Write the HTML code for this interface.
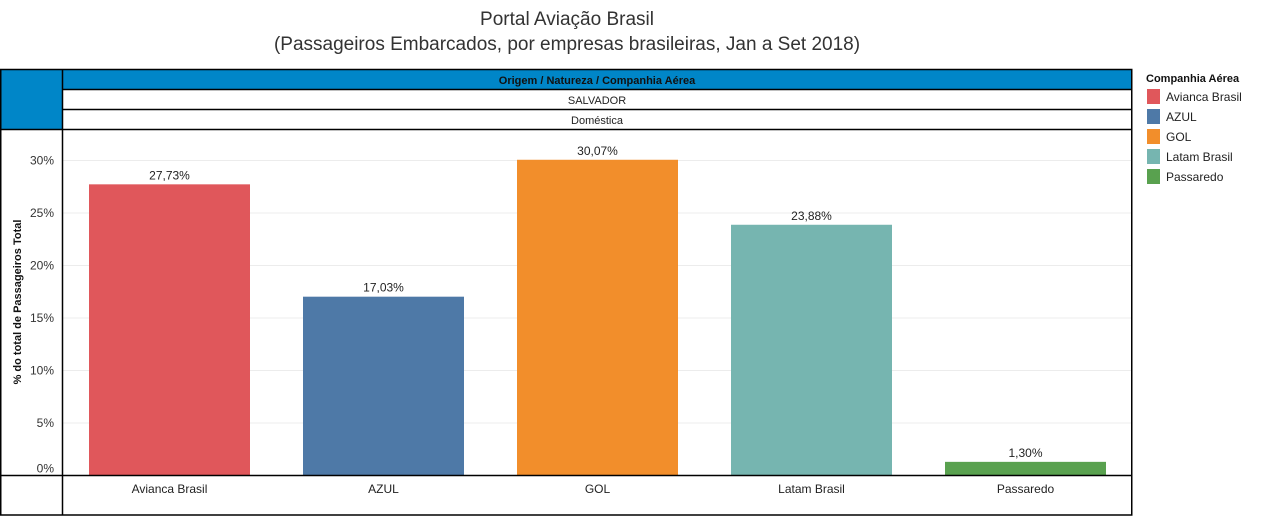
<!DOCTYPE html>
<html><head><meta charset="utf-8"><style>
body{margin:0;width:1284px;height:516px;background:#fff;font-family:"Liberation Sans",sans-serif;overflow:hidden;position:relative}
.t{position:absolute;white-space:nowrap}
</style></head><body>
<div class="t" style="left:0;width:1134px;top:7px;text-align:center;font-size:19px;line-height:25px;color:#333">Portal Aviação Brasil<br>(Passageiros Embarcados, por empresas brasileiras, Jan a Set 2018)</div>
<svg width="1284" height="516" style="position:absolute;left:0;top:0" id="chart">
<rect x="0.5" y="69.5" width="62" height="60" fill="#0086c8"/>
<rect x="62.5" y="69.5" width="1069" height="20" fill="#0086c8"/>
<text x="597" y="84" font-size="11" font-weight="bold" text-anchor="middle" fill="#111">Origem  /  Natureza  /  Companhia Aérea</text>
<text x="597" y="104" font-size="11" text-anchor="middle" fill="#222">SALVADOR</text>
<text x="597" y="124" font-size="11" text-anchor="middle" fill="#222">Doméstica</text>
<g id="grid"></g><g id="bars"></g>
<g stroke="#000" stroke-width="1.5" fill="none">
<rect x="0.75" y="69.5" width="1131" height="445.5"/>
<line x1="62.5" y1="69.5" x2="62.5" y2="515"/>
<line x1="62.5" y1="89.5" x2="1132" y2="89.5"/>
<line x1="62.5" y1="109.5" x2="1132" y2="109.5"/>
<line x1="0" y1="129.5" x2="1132" y2="129.5"/>
<line x1="0" y1="475.5" x2="1132" y2="475.5"/>
</g>
<text transform="translate(21,302) rotate(-90)" font-size="11" font-weight="bold" text-anchor="middle" fill="#111">% do total de Passageiros Total</text>
<text x="1146" y="82" font-size="11" font-weight="bold" fill="#111">Companhia Aérea</text>
<g id="legend"></g>
</svg>
<script>
const categories=["Avianca Brasil","AZUL","GOL","Latam Brasil","Passaredo"];
const values=[27.73,17.03,30.07,23.88,1.30];
const colors=["#e0575b","#4e79a7","#f28e2b","#76b5b0","#59a14f"];
const ticks=[0,5,10,15,20,25,30];
const NS="http://www.w3.org/2000/svg";
const y=v=>475.5-v*10.5;
const x=i=>89+i*214;
const bw=161;
function mk(t,a){const e=document.createElementNS(NS,t);for(const k in a)e.setAttribute(k,a[k]);return e;}
const g=document.getElementById('grid'),b=document.getElementById('bars'),l=document.getElementById('legend'),svg=document.getElementById('chart');
ticks.forEach(t=>{
 if(t>0){const ln=mk('line',{x1:63,x2:1131,y1:y(t),y2:y(t),stroke:'#ececec'});
 
 g.appendChild(ln);}
 const tx=mk('text',{x:54,y:y(t)+(t==0?-3:4),'font-size':12,'text-anchor':'end',fill:'#333'});tx.textContent=t+'%';
 
 g.appendChild(tx);
});
values.forEach((v,i)=>{
 const r=mk('rect',{x:x(i),y:y(v),width:bw,height:475.5-y(v),fill:colors[i]});
 
 b.appendChild(r);
 const lb=mk('text',{x:x(i)+bw/2,y:y(v)-5,'font-size':12,'text-anchor':'middle',fill:'#222'});lb.textContent=v.toFixed(2).replace('.',',')+'%';
 
 b.appendChild(lb);
 const cl=mk('text',{x:x(i)+bw/2,y:493,'font-size':12,'text-anchor':'middle',fill:'#222'});cl.textContent=categories[i];
 
 b.appendChild(cl);
 const sw=mk('rect',{x:1147,y:89+i*20,width:13,height:15,fill:colors[i]});
 
 l.appendChild(sw);
 const lt=mk('text',{x:1166,y:101+i*20,'font-size':12,fill:'#222'});lt.textContent=categories[i];
 
 l.appendChild(lt);
});
</script>
</body></html>
